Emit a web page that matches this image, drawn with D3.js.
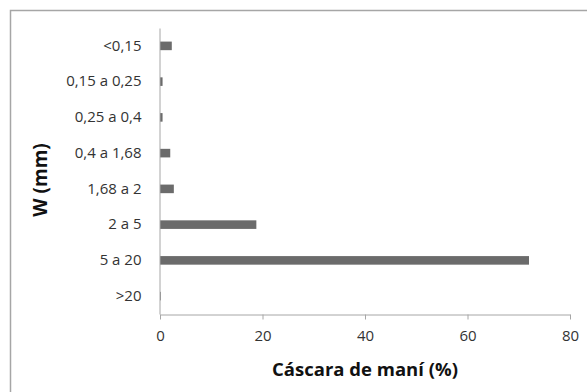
<!DOCTYPE html>
<html><head><meta charset="utf-8">
<script src="https://cdn.jsdelivr.net/npm/d3@7"></script>
<style>body{margin:0;background:#fff}svg{display:block}text{font-family:"Open Sans","Liberation Sans",sans-serif}</style>
</head><body><svg id="c" width="587" height="392"></svg>
<script>
const categories = ["<0,15","0,15 a 0,25","0,25 a 0,4","0,4 a 1,68","1,68 a 2","2 a 5","5 a 20",">20"];
const values = [2.3, 0.5, 0.5, 2.0, 2.7, 18.8, 72.0, 0.15];
const xTicks = [0, 20, 40, 60, 80];
const xTitle = "Cáscara de maní (%)";
const yTitle = "W (mm)";

(function(){
const svg = d3.select("#c");
svg.append("rect").attr("x",10.5).attr("y",10.5).attr("width",700).attr("height",500)
  .attr("fill","none").attr("stroke","#a6a6a6").attr("stroke-width",1.5);

const mLeft = 160, mRight = 570, mTop = 28, mBottom = 314;
const x = d3.scaleLinear().domain([0,80]).range([mLeft,mRight]);
const y = d3.scaleBand().domain(categories).range([mTop,mBottom]).paddingInner(0.76).paddingOuter(0.38);

svg.selectAll("rect.bar").data(values).join("rect").attr("class","bar")
  .attr("x", x(0)).attr("y",(d,i)=>y(categories[i]))
  .attr("width", d=>x(d)-x(0)).attr("height", y.bandwidth())
  .attr("fill","#6b6b6b");

const xa = svg.append("g").attr("transform",`translate(0,${mBottom+0.5})`)
  .call(d3.axisBottom(x).tickValues(xTicks).tickSize(5).tickSizeOuter(0).tickPadding(11));
xa.select(".domain").attr("stroke","#a6a6a6");
xa.selectAll(".tick line").attr("stroke","#a6a6a6");
xa.selectAll(".tick text").attr("font-size",15).attr("fill","#333");

const ya = svg.append("g").attr("transform",`translate(${mLeft-0.5},0)`)
  .call(d3.axisLeft(y).tickSize(0).tickPadding(18));
ya.select(".domain").attr("stroke","#a6a6a6");
ya.selectAll(".tick text").attr("font-size",15).attr("fill","#333");

svg.append("text").attr("x",365).attr("y",376).attr("text-anchor","middle")
  .attr("font-size",18.5).attr("font-weight","bold").attr("fill","#111").text(xTitle);
svg.append("text").attr("transform","translate(47,180) rotate(-90)").attr("text-anchor","middle")
  .attr("font-size",19).attr("font-weight","bold").attr("fill","#111").text(yTitle);
})();
</script></body></html>
